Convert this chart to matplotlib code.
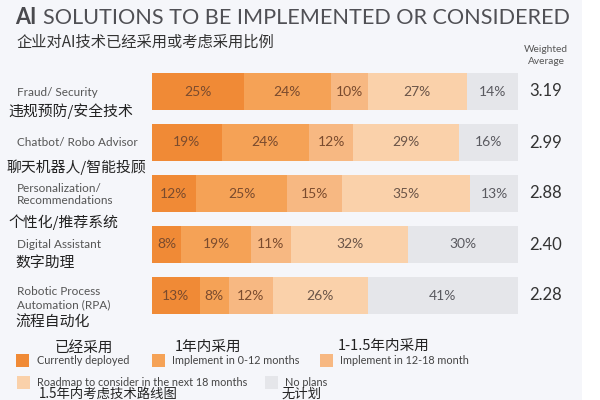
import matplotlib
matplotlib.use("Agg")
import matplotlib.pyplot as plt
from matplotlib.patches import Rectangle

# ---- data ----
categories_en = ["Fraud/ Security", "Chatbot/ Robo Advisor", "Personalization/\nRecommendations",
                 "Digital Assistant", "Robotic Process\nAutomation (RPA)"]
categories_zh = ["违规预防/安全技术", "聊天机器人/智能投顾", "个性化/推荐系统", "数字助理", "流程自动化"]
series_names = ["Currently deployed", "Implement in 0-12 months", "Implement in 12-18 month",
                "Roadmap to consider in the next 18 months", "No plans"]
series_zh = ["已经采用", "1年内采用", "1-1.5年内采用", "1.5年内考虑技术路线图", "无计划"]
deployed = [25, 19, 12, 8, 13]
impl_0_12 = [24, 24, 25, 19, 8]
impl_12_18 = [10, 12, 15, 11, 12]
roadmap = [27, 29, 35, 32, 26]
no_plans = [14, 16, 13, 30, 41]
weighted_avg = ["3.19", "2.99", "2.88", "2.40", "2.28"]

colors = ["#f08a36", "#f5a256", "#f7b882", "#fad1aa", "#e5e6ea"]
label_colors = ["#7a4b2e", "#7a4b2e", "#7a4b2e", "#6b5548", "#5a5a60"]

EN = ["Lato", "DejaVu Sans"]
ZH = ["Noto Sans CJK SC", "DejaVu Sans"]

W, H = 600, 400
fig = plt.figure(figsize=(6, 4), dpi=100)
fig.patch.set_facecolor("#f5f6fa")
# white strip at right edge
fig.patches.append(Rectangle((582 / W, 0), 18 / W, 1, transform=fig.transFigure,
                             facecolor="white", edgecolor="none", zorder=0))

def fx(px):
    return px / W

def fy(py):
    return 1 - py / H

ax = fig.add_axes([fx(152), fy(321), 366 / W, 255 / H])
ax.set_facecolor("none")
ax.set_xlim(0, 100)
ax.set_ylim(4.5, -0.5)
ax.axis("off")

series = [deployed, impl_0_12, impl_12_18, roadmap, no_plans]
ypos = list(range(len(categories_en)))
left = [0] * len(ypos)
for si, vals in enumerate(series):
    ax.barh(ypos, vals, left=left, height=0.725, color=colors[si], edgecolor="none")
    for i, v in enumerate(vals):
        ax.text(left[i] + v / 2, ypos[i], f"{v}%", ha="center", va="center",
                fontsize=10, color=label_colors[si], family=EN)
    left = [l + v for l, v in zip(left, vals)]

# title
fig.text(fx(15), fy(18), "AI", fontsize=15.6, fontweight="bold", color="#4a4a4e",
         family=EN, va="center", ha="left")
fig.text(fx(43), fy(18), "SOLUTIONS TO BE IMPLEMENTED OR CONSIDERED", fontsize=15.6,
         color="#505055", family=EN, va="center", ha="left")
fig.text(fx(16), fy(42), "企业对AI技术已经采用或考虑采用比例", fontsize=11, color="#333333",
         family=ZH, va="center", ha="left")

# weighted average header
fig.text(fx(546), fy(49), "Weighted", fontsize=7.3, color="#555", family=EN, ha="center", va="center")
fig.text(fx(546), fy(62), "Average", fontsize=7.3, color="#555", family=EN, ha="center", va="center")

# category labels
en_y = [92, 142, 194.5, 244, 298]
zh_y = [111, 167, 222, 263, 323]
zh_x = [8, 7, 8, 15, 15]
for i in range(len(categories_en)):
    fig.text(fx(17), fy(en_y[i]), categories_en[i], fontsize=8.5, color="#555", family=EN,
             ha="left", va="center", linespacing=1.2)
    fig.text(fx(zh_x[i]), fy(zh_y[i]), categories_zh[i], fontsize=10.7, color="#222",
             family=ZH, ha="left", va="center")
    ax.text(107.6, ypos[i], weighted_avg[i], fontsize=12, color="#333", family=EN,
            ha="center", va="center")

# legend
leg = [
    # (square x, square y, text x, text y, zh x, zh y, zh size)
    (16, 354, 37, 361, 55, 348, 10.5),
    (152, 354, 172, 361, 175, 347, 10.5),
    (320, 354, 340, 360, 338, 346, 10.5),
    (17, 376, 37, 382, 39, 393.5, 9.6),
    (265, 376, 285, 382, 282, 393.5, 9.6),
]
for si, (sx, sy, tx, ty, zx, zy, zs) in enumerate(leg):
    fig.patches.append(Rectangle((fx(sx), fy(sy + 13)), 13 / W, 13 / H, transform=fig.transFigure,
                                 facecolor=colors[si], edgecolor="none"))
    fig.text(fx(tx), fy(ty), series_names[si], fontsize=7.8, color="#444", family=EN,
             ha="left", va="center")
    fig.text(fx(zx), fy(zy), series_zh[si], fontsize=zs, color="#222", family=ZH,
             ha="left", va="center")

fig.savefig("out.png", dpi=100, facecolor=fig.get_facecolor())
